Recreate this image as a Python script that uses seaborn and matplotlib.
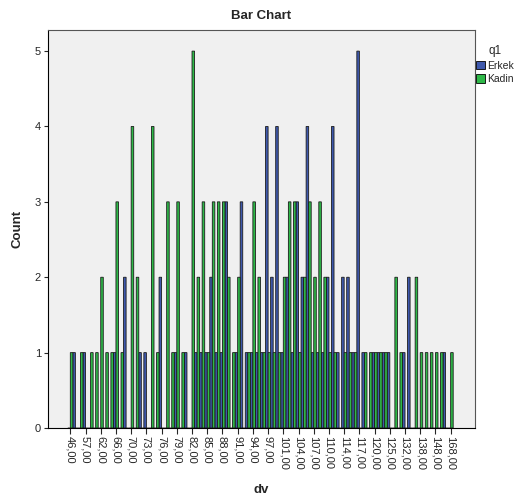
import matplotlib
matplotlib.use("Agg")
import matplotlib.pyplot as plt
import seaborn as sns
import pandas as pd

# dv categories (every third one is labelled on the axis)
dv_values = [46, 50, 55, 57, 58, 60, 62, 63, 64, 66, 67, 68, 70, 71, 72, 73, 74, 75, 76,
             77, 78, 79, 80, 81, 82, 83, 84, 85, 86, 87, 88, 89, 90, 91, 92, 93, 94, 95,
             96, 97, 98, 99, 101, 102, 103, 104, 105, 106, 107, 108, 109, 110, 111, 112,
             114, 115, 116, 117, 118, 119, 120, 121, 122, 125, 126, 128, 132, 134, 135,
             138, 140, 142, 148, 150, 155, 168]

# counts per category
erkek = [0, 1, 0, 1, 0, 0, 0, 0, 0, 1, 0, 2, 0, 0, 1, 1, 0, 0, 2,
         0, 0, 1, 0, 1, 0, 1, 1, 1, 2, 1, 1, 3, 0, 1, 3, 1, 1, 1,
         1, 4, 2, 4, 1, 2, 1, 3, 2, 4, 1, 1, 1, 2, 4, 1,
         2, 2, 1, 5, 1, 0, 1, 1, 1, 1, 0, 0, 1, 2, 0,
         0, 0, 0, 0, 0, 1, 0]
kadin = [1, 0, 1, 0, 1, 1, 2, 1, 1, 3, 1, 0, 4, 2, 0, 0, 4, 1, 0,
         3, 1, 3, 1, 0, 5, 2, 3, 1, 3, 3, 3, 2, 1, 2, 0, 1, 3, 2,
         1, 1, 1, 1, 2, 3, 3, 1, 2, 3, 2, 3, 2, 1, 1, 0,
         1, 1, 1, 0, 1, 1, 1, 1, 1, 0, 2, 1, 0, 0, 2,
         1, 1, 1, 1, 1, 0, 1]

groups = ["Erkek", "Kadin"]
colors = ["#3E58AC", "#2EB848"]

labels = [f"{v},00" for v in dv_values]
df = pd.DataFrame({
    "dv": labels * 2,
    "Count": erkek + kadin,
    "q1": ["Erkek"] * len(labels) + ["Kadin"] * len(labels),
})

sns.set_style("ticks")
plt.rcParams["font.family"] = ["Liberation Sans", "DejaVu Sans"]

fig = plt.figure(figsize=(5.19, 4.97), dpi=100)
ax = fig.add_axes([48 / 519, 1 - 428 / 497, (475 - 48) / 519, (428 - 30) / 497])
ax.set_facecolor("#F0F0F0")

sns.barplot(data=df, x="dv", y="Count", hue="q1", order=labels, hue_order=groups,
            palette=colors, width=1.0, edgecolor="#1a1a1a", linewidth=0.6,
            saturation=1, ax=ax)
for p in ax.patches:
    p.set_snap(False)

ax.set_xlim(-4.4, 79.8)
ax.set_ylim(0, 5.28)
ax.set_yticks(range(6))
ax.set_xticks(range(0, len(labels), 3))
ax.set_xticklabels(labels[::3], rotation=-90, fontsize=8)
ax.tick_params(axis="y", labelsize=8, length=3, width=0.8, pad=2)
ax.tick_params(axis="x", length=4, width=0.8, pad=2)

for side in ["top", "right"]:
    ax.spines[side].set_visible(True)
    ax.spines[side].set_color("#555555")
    ax.spines[side].set_linewidth(0.8)
for side in ["left", "bottom"]:
    ax.spines[side].set_color("black")
    ax.spines[side].set_linewidth(0.8)

ax.set_title("Bar Chart", fontsize=9.5, fontweight="bold", pad=8)
ax.set_xlabel("dv", fontsize=9.5, fontweight="bold", labelpad=10)
ax.set_ylabel("Count", fontsize=9.5, fontweight="bold", labelpad=8)

leg = ax.legend(title="q1", loc="upper left", bbox_to_anchor=(0.995, 0.97),
                frameon=False, fontsize=7.5, title_fontsize=8.5,
                handlelength=0.9, handleheight=0.9, handletextpad=0.15,
                borderaxespad=0.1, labelspacing=0.35, borderpad=0.2)
for h in leg.legend_handles:
    h.set_edgecolor("black")
    h.set_linewidth(0.6)

fig.savefig("out.png", dpi=100)
